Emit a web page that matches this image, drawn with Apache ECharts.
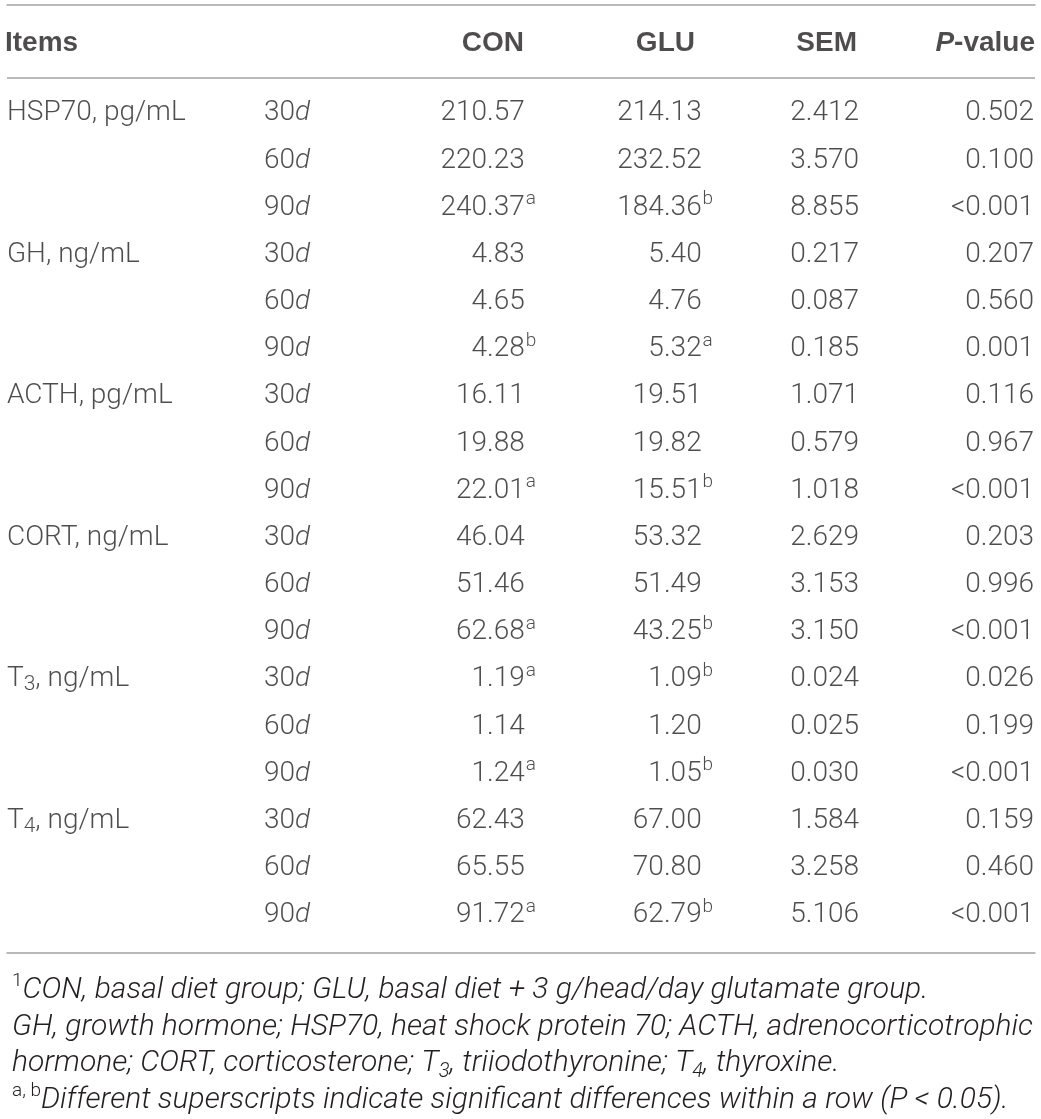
<!DOCTYPE html>
<html>
<head>
<meta charset="utf-8">
<script src="https://cdn.jsdelivr.net/npm/echarts@6/dist/echarts.min.js"></script>
<style>
html,body{margin:0;padding:0;background:#fff;}
#chart{width:1041px;height:1119px;}
</style>
</head>
<body>
<div id="chart"></div>
<script>
// ---------------- data ----------------
const columns = ['Items', 'Day', 'CON', 'GLU', 'SEM', 'P-value'];
const items = ['HSP70, pg/mL', 'GH, ng/mL', 'ACTH, pg/mL', 'CORT, ng/mL', 'T_3, ng/mL', 'T_4, ng/mL'];
const days = ['30', '60', '90'];
const con = ['210.57','220.23','240.37','4.83','4.65','4.28','16.11','19.88','22.01','46.04','51.46','62.68','1.19','1.14','1.24','62.43','65.55','91.72'];
const conSup = ['','','a','','','b','','','a','','','a','a','','a','','','a'];
const glu = ['214.13','232.52','184.36','5.40','4.76','5.32','19.51','19.82','15.51','53.32','51.49','43.25','1.09','1.20','1.05','67.00','70.80','62.79'];
const gluSup = ['','','b','','','a','','','b','','','b','b','','b','','','b'];
const sem = ['2.412','3.570','8.855','0.217','0.087','0.185','1.071','0.579','1.018','2.629','3.153','3.150','0.024','0.025','0.030','1.584','3.258','5.106'];
const pValue = ['0.502','0.100','<0.001','0.207','0.560','0.001','0.116','0.967','<0.001','0.203','0.996','<0.001','0.026','0.199','<0.001','0.159','0.460','<0.001'];
const footnotes = [
  '{sup|1}{i|CON, basal diet group; GLU, basal diet + 3 g/head/day glutamate group.}',
  '{i|GH, growth hormone; HSP70, heat shock protein 70; ACTH, adrenocorticotrophic}',
  '{i|hormone; CORT, corticosterone; T}{isub|3}{i|, triiodothyronine; T}{isub|4}{i|, thyroxine.}',
  '{sup|a, b}{i|Different superscripts indicate significant differences within a row (P < 0.05).}'
];

// ---------------- layout / style ----------------
const FONT = 'Roboto, "Liberation Sans", Arial, sans-serif';
const BOLDFONT = '"Liberation Sans", Arial, sans-serif';
const TXT = '#231f20';
const RULE = '#a3a3a3';
const BODY = 28;
const HEADER_ROW = -1.5;

const rich = {
  t: {fontFamily: FONT, fontSize: BODY, fontWeight: 300, color: TXT, lineHeight: 32},
  ti: {fontFamily: FONT, fontSize: BODY, fontWeight: 300, fontStyle: 'italic', color: TXT, lineHeight: 32},
  sub: {fontFamily: FONT, fontSize: 21, fontWeight: 300, color: TXT, lineHeight: 12, verticalAlign: 'bottom'},
  b: {fontFamily: BOLDFONT, fontSize: 28, fontWeight: 'bold', color: TXT, lineHeight: 32},
  bi: {fontFamily: BOLDFONT, fontSize: 28, fontWeight: 'bold', fontStyle: 'italic', color: TXT, lineHeight: 32}
};

function cellSeries(name, col, values, fmt, align, dx, dy, textStyle) {
  const data = [];
  values.forEach((v, r) => { if (v !== '') data.push([col, r, v]); });
  return {
    name: name,
    type: 'scatter',
    symbolSize: 0,
    silent: true,
    data: data,
    label: Object.assign({
      show: true,
      position: 'inside',
      align: align,
      verticalAlign: 'middle',
      offset: [dx, dy],
      formatter: p => fmt(p.data[2]),
      rich: rich
    }, textStyle || {})
  };
}

const itemRows = [];
items.forEach((it, i) => { itemRows[i * 3] = it; itemRows[i * 3 + 1] = ''; itemRows[i * 3 + 2] = ''; });
const dayRows = [];
items.forEach((it, i) => days.forEach((d, k) => { dayRows[i * 3 + k] = d; }));

const itemFmt = s => s.split(/_(\d)/).map((part, k) => k % 2 ? '{sub|' + part + '}' : (part ? '{t|' + part + '}' : '')).join('');
const plain = s => '{t|' + s + '}';
const supStyle = {fontFamily: FONT, fontSize: 19, fontWeight: 300, color: TXT};

const headerDx = [-87.7, 0, 88.7, 88.3, 79, 85.7];

const series = [
  cellSeries('items', 0, itemRows, itemFmt, 'left', -85.7, 0),
  cellSeries('day', 1, dayRows, s => '{t|' + s + '}{ti|d}', 'left', 0, 0),
  cellSeries('con', 2, con, plain, 'right', 89.5, 0),
  cellSeries('conSup', 2, conSup, s => s, 'left', 90.3, -8.5, supStyle),
  cellSeries('glu', 3, glu, plain, 'right', 95, 0),
  cellSeries('gluSup', 3, gluSup, s => s, 'left', 95.8, -8.5, supStyle),
  cellSeries('sem', 4, sem, plain, 'right', 81, 0),
  cellSeries('p', 5, pValue, plain, 'right', 84.7, 0)
];

columns.forEach((c, k) => {
  if (c === 'Day') return;
  const txt = c === 'P-value' ? '{bi|P}{b|-value}' : '{b|' + c + '}';
  series.push({
    name: 'header-' + c,
    type: 'scatter',
    symbolSize: 0,
    silent: true,
    data: [[k, HEADER_ROW, txt]],
    label: {
      show: true, position: 'inside',
      align: k === 0 ? 'left' : 'right', verticalAlign: 'middle',
      offset: [headerDx[k], 1],
      formatter: p => p.data[2], rich: rich
    },
    markLine: k === 0 ? {
      silent: true, symbol: 'none', label: {show: false},
      lineStyle: {color: RULE, width: 1.5, type: 'solid'},
      data: [{yAxis: -0.76}]
    } : undefined
  });
});

const ruleAxis = pos => ({
  type: 'category', data: columns, position: pos,
  axisLine: {show: true, onZero: false, lineStyle: {color: RULE, width: 1.5}},
  axisTick: {show: false}, axisLabel: {show: false}, splitLine: {show: false}
});

const option = {
  animation: false,
  backgroundColor: '#ffffff',
  title: {
    left: 7, top: 967,
    text: footnotes.join('\n'),
    textStyle: {
      fontFamily: FONT, fontSize: 30, fontWeight: 300, color: TXT, lineHeight: 36.7,
      rich: {
        i: {fontFamily: FONT, fontSize: 30, fontWeight: 300, fontStyle: 'italic', color: TXT, lineHeight: 36.7},
        isub: {fontFamily: FONT, fontSize: 20, fontWeight: 300, fontStyle: 'italic', color: TXT, lineHeight: 12, verticalAlign: 'bottom'},
        sup: {fontFamily: FONT, fontSize: 19, fontWeight: 300, color: TXT, lineHeight: 18, verticalAlign: 'top'}
      }
    }
  },
  grid: {left: 7, right: 6, top: 5, bottom: 166},
  xAxis: [ruleAxis('bottom'), ruleAxis('top')],
  yAxis: {type: 'value', inverse: true, min: -2.3, max: 17.8, show: false},
  series: series
};

const chart = echarts.init(document.getElementById('chart'), null, {renderer: 'canvas'});
chart.setOption(option);
</script>
</body>
</html>
